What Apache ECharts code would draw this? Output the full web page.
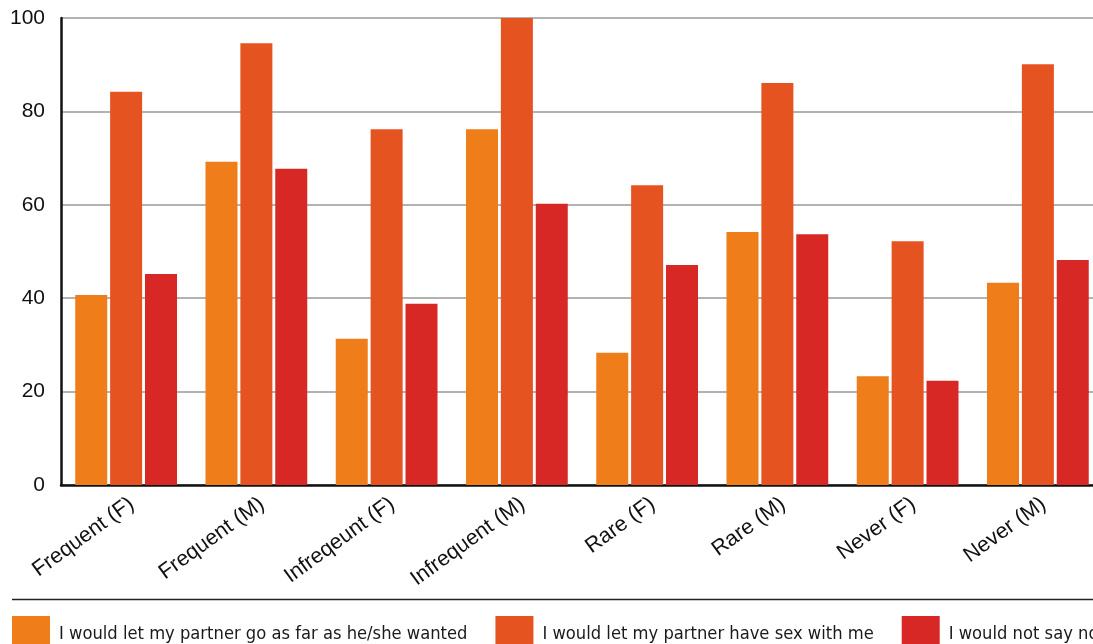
<!DOCTYPE html>
<html>
<head>
<meta charset="utf-8">
<script src="https://cdn.jsdelivr.net/npm/echarts@6/dist/echarts.min.js"></script>
<style>
  html, body { margin: 0; padding: 0; background: #fff; overflow: hidden; }
  #main { width: 1110px; height: 644px; }
</style>
</head>
<body>
<div id="main"></div>
<script>
// data
var categories = ['Frequent (F)', 'Frequent (M)', 'Infreqeunt (F)', 'Infrequent (M)',
                  'Rare (F)', 'Rare (M)', 'Never (F)', 'Never (M)'];
var seriesNames = ['I would let my partner go as far as he/she wanted',
                   'I would let my partner have sex with me',
                   'I would not say no'];
var goAsFar = [40.7, 69.2, 31.3, 76.2, 28.3, 54.2, 23.3, 43.3];
var haveSex = [84.2, 94.6, 76.2, 100, 64.2, 86.1, 52.2, 90.1];
var notSayNo = [45.2, 67.7, 38.8, 60.2, 47.1, 53.7, 22.3, 48.2];
var colors = ['#ee7d1a', '#e55320', '#d72826'];

var myChart = echarts.init(document.getElementById('main'));
option = {
    color: colors,
    animation: false,
    grid: {
        left: 61,
        top: 18,
        width: 1042,
        height: 467
    },
    legend: {
        left: 7,
        top: 611,
        itemWidth: 38,
        itemHeight: 36,
        itemGap: 28,
        icon: 'rect',
        textStyle: {
            fontFamily: "'DejaVu Sans Condensed', 'Roboto'",
            fontSize: 18.2,
            color: '#1a1a1a',
            padding: [0, 0, 0, 4]
        },
        data: seriesNames
    },
    graphic: [{
        type: 'line',
        shape: { x1: 12, y1: 599.5, x2: 1110, y2: 599.5 },
        style: { stroke: '#222', lineWidth: 1.5 }
    }],
    xAxis: {
        type: 'category',
        data: categories,
        axisLine: { lineStyle: { color: '#111', width: 2.5 } },
        axisTick: { show: false },
        axisLabel: {
            rotate: 36,
            margin: 21,
            interval: 0,
            padding: [0, -7, 0, 0],
            fontFamily: 'Liberation Sans',
            fontSize: 21.5,
            color: '#111'
        }
    },
    yAxis: {
        type: 'value',
        min: 0,
        max: 100,
        interval: 20,
        axisLine: { show: true, lineStyle: { color: '#111', width: 2.5 } },
        axisTick: { show: false },
        splitLine: { lineStyle: { color: '#999', width: 1.5 } },
        axisLabel: {
            margin: 16,
            fontFamily: 'Liberation Sans',
            fontSize: 21,
            color: '#111'
        }
    },
    series: [
        { name: seriesNames[0], type: 'bar', data: goAsFar, barWidth: 32, barGap: '9%' },
        { name: seriesNames[1], type: 'bar', data: haveSex, barWidth: 32, barGap: '9%' },
        { name: seriesNames[2], type: 'bar', data: notSayNo, barWidth: 32, barGap: '9%' }
    ]
};
myChart.setOption(option);
</script>
</body>
</html>
